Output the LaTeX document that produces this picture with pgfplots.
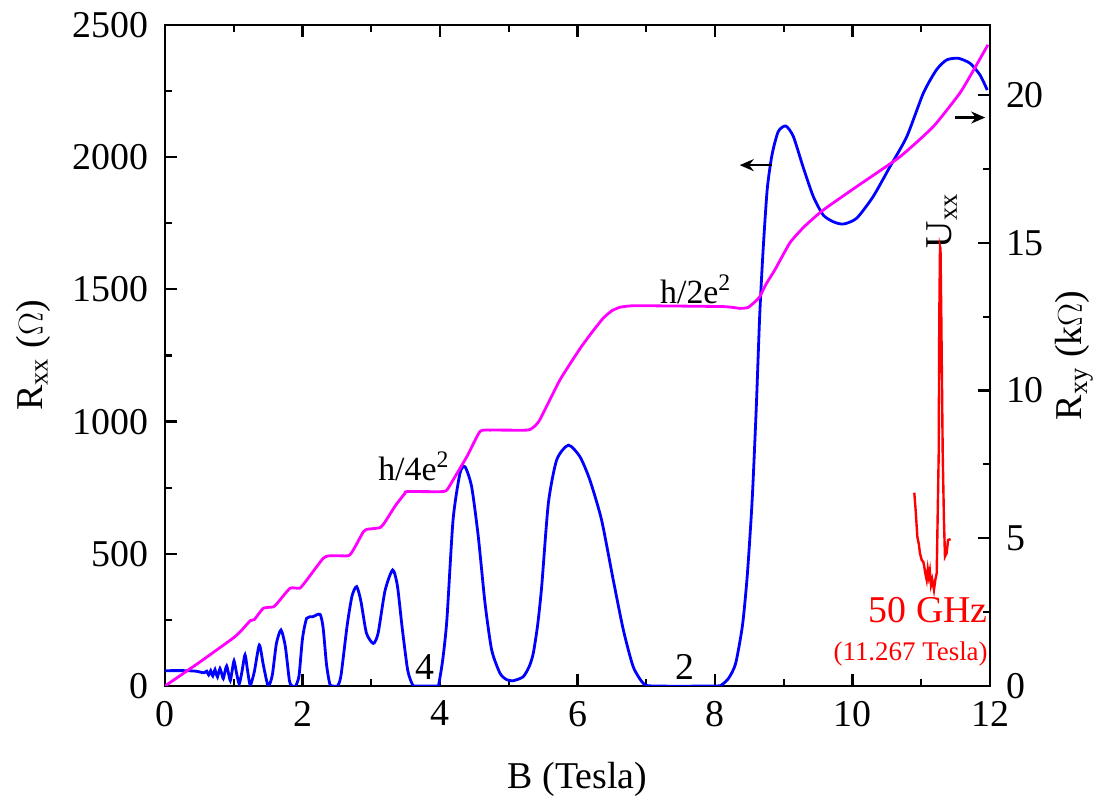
\documentclass[border=0pt]{standalone}
\usepackage{fontspec}
\setmainfont{Liberation Serif}
\usepackage{pgfplots}
\pgfplotsset{compat=1.18}
\usetikzlibrary{arrows.meta}
\definecolor{cblue}{RGB}{0,0,255}
\definecolor{cmag}{RGB}{255,0,255}
\definecolor{cred}{RGB}{255,0,0}

\pgfplotstableread{
B R
0.00 58
0.30 58
0.45 56
0.52 52
0.57 50
0.59 54
0.606 56
0.62 48
0.635 42
0.65 50
0.664 58
0.68 46
0.695 38
0.71 50
0.727 62
0.745 46
0.763 34
0.78 50
0.80 66
0.825 46
0.848 28
0.87 52
0.897 76
0.925 46
0.95 20
0.975 55
1.004 95
1.04 50
1.08 8
1.12 55
1.164 118
1.20 60
1.24 3
1.30 55
1.372 155
1.43 80
1.50 1
1.56 40
1.62 160
1.687 212
1.75 150
1.81 20
1.85 0
1.90 0
1.95 40
2.00 180
2.061 256
2.15 262
2.255 271
2.30 220
2.35 80
2.40 5
2.45 0
2.51 0
2.56 40
2.65 230
2.72 340
2.788 376
2.85 320
2.93 200
3.03 161
3.10 200
3.20 360
3.311 439
3.38 380
3.45 220
3.53 60
3.60 5
3.65 0
3.95 0
3.98 4
4.04 100
4.10 250
4.19 628
4.29 804
4.364 829
4.46 754
4.557 565
4.655 313
4.752 136
4.873 48
4.97 24
5.066 20
5.21 35
5.30 75
5.357 124
5.42 230
5.479 376
5.576 691
5.697 855
5.867 911
6.036 867
6.18 779
6.35 628
6.52 401
6.667 212
6.81 73
6.957 10
7.1 0
8.0 0
8.1 5
8.2 30
8.3 85
8.4 230
8.47 420
8.54 700
8.6 1050
8.65 1400
8.7 1650
8.76 1880
8.83 2010
8.92 2097
9.03 2118
9.14 2078
9.28 1964
9.43 1851
9.575 1781
9.72 1756
9.866 1747
10.06 1769
10.30 1851
10.545 1964
10.79 2078
11.03 2242
11.22 2330
11.37 2368
11.54 2374
11.71 2355
11.855 2311
11.96 2254
}\rxx

\pgfplotstableread{
B R
0.00 0.00
0.50 0.80
0.99 1.62
1.10 1.85
1.24 2.21
1.30 2.25
1.43 2.63
1.58 2.68
1.65 2.85
1.82 3.31
1.96 3.31
2.05 3.55
2.30 4.32
2.40 4.41
2.67 4.41
2.75 4.65
2.885 5.22
2.93 5.30
3.13 5.36
3.20 5.55
3.35 6.10
3.49 6.52
3.52 6.58
4.05 6.58
4.12 6.70
4.19 6.97
4.39 7.76
4.58 8.61
4.73 8.66
5.26 8.66
5.35 8.74
5.45 9.00
5.745 10.36
6.04 11.43
6.22 12.00
6.375 12.45
6.50 12.70
6.62 12.82
6.75 12.86
6.90 12.87
8.12 12.84
8.36 12.78
8.48 12.81
8.58 13.00
8.65 13.17
8.75 13.63
8.87 14.08
9.09 15.00
9.30 15.55
9.575 16.11
10.06 16.90
10.69 17.91
11.175 18.93
11.56 20.06
11.75 20.80
11.97 21.70
}\rxy

\pgfplotstableread{
B U
10.899 6.54
10.92 5.90
10.943 5.05
10.967 4.77
10.98 4.50
11.007 4.26
11.03 4.20
11.04 4.09
11.06 3.80
11.079 3.59
11.095 3.95
11.11 3.70
11.125 3.90
11.142 3.42
11.16 3.60
11.185 3.25
11.205 3.60
11.225 3.82
11.233 4.94
11.254 7.88
11.262 12.39
11.273 14.87
11.280 14.80
11.292 12.39
11.312 7.88
11.33 5.62
11.345 4.38
11.37 4.50
11.39 4.94
11.428 4.97
}\uxx

\begin{document}
\begin{tikzpicture}[font=\fontsize{19}{22}\selectfont]
\pgfplotsset{
  every axis/.style={
    scale only axis, width=412.5bp, height=330.5bp,
    xmin=0, xmax=12,
    tick align=inside,
    major tick length=6bp, minor tick length=3.5bp,
    every tick/.style={black, line width=1.1bp},
    axis line style={line width=1.2bp},
    /pgf/number format/assume math mode=true,
    /pgf/number format/set thousands separator={},
    tick label style={font=\fontsize{19}{22}\selectfont},
    label style={font=\fontsize{19}{22}\selectfont},
  }
}
\begin{axis}[
  ymin=0, ymax=2500,
  xtick={0,2,...,12}, minor x tick num=1,
  ytick={0,500,...,2500}, minor y tick num=1,
  ytick pos=left, xtick pos=both,
  xticklabel style={yshift=-4bp},
  yticklabel style={xshift=-5bp},
  xlabel={B (Tesla)},
  xlabel style={yshift=-11bp},
  ylabel={R\textsubscript{xx} ($\Omega$)},
  ylabel style={yshift=4bp},
]
\addplot[cblue, line width=1.4bp, smooth, tension=0.4] table[x=B,y=R] {\rxx};
\node[font=\fontsize{19}{20}\selectfont] at (axis cs:3.78,72) {4};
\node[font=\fontsize{19}{20}\selectfont] at (axis cs:7.56,72) {2};
\node[font=\fontsize{17}{20}\selectfont] at (axis cs:3.62,830) {h/4e\textsuperscript{2}};
\node[font=\fontsize{17}{20}\selectfont] at (axis cs:7.72,1500) {h/2e\textsuperscript{2}};
\draw[-{Stealth[length=7bp,width=6bp]}, line width=1.1bp] (axis cs:8.83,1970) -- (axis cs:8.36,1970);
\draw[-{Stealth[length=7bp,width=6bp]}, line width=1.1bp] (axis cs:11.49,2150) -- (axis cs:11.93,2150);
\node[rotate=90] at (axis cs:11.3,1760) {U\textsubscript{xx}};
\node[cred, anchor=east, inner sep=1bp] at (axis cs:12.0,287) {50 GHz};
\node[cred, anchor=east, inner sep=1bp, font=\fontsize{13.5}{15}\selectfont] at (axis cs:12.0,121) {(11.267 Tesla)};
\end{axis}
\begin{axis}[
  ymin=0, ymax=22.37,
  axis x line=none, axis y line*=right,
  ytick={0,5,...,20}, minor y tick num=1,
  yticklabel style={xshift=4.5bp},
  ylabel={R\textsubscript{xy} (k$\Omega$)},
  ylabel style={yshift=1bp},
]
\addplot[cmag, line width=1.4bp, smooth, tension=0.3] table[x=B,y=R] {\rxy};
\addplot[cred, line width=1.2bp] table[x=B,y=U] {\uxx};
\end{axis}
\pgfresetboundingbox
\path[use as bounding box] (-82.5bp,-57.5bp) rectangle (469bp,343bp);
\end{tikzpicture}
\end{document}
